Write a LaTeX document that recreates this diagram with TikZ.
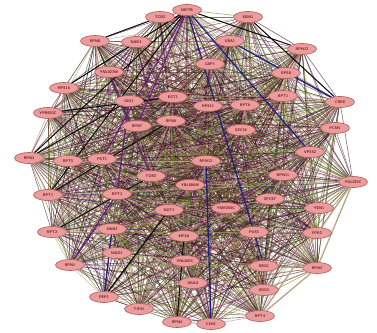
\documentclass[tikz,border=0pt]{standalone}
\usetikzlibrary{shapes.geometric,backgrounds}
\definecolor{nodefill}{HTML}{EB9C9C}
\definecolor{nodeborder}{HTML}{B05A5A}
\definecolor{nodetext}{HTML}{6A1515}
\definecolor{cola}{HTML}{7A8A2A}
\definecolor{colb}{HTML}{BCA88C}
\definecolor{colc}{HTML}{4A0A18}
\definecolor{cold}{HTML}{5A1A5A}
\definecolor{cole}{HTML}{2A5018}
\definecolor{colf}{HTML}{C08890}
\definecolor{colg}{HTML}{2A1A1A}
\definecolor{colh}{HTML}{6A3A2A}
\definecolor{accblue}{HTML}{1A1A80}
\definecolor{accpurple}{HTML}{6A1A7A}
\tikzset{
  pn/.style={ellipse, draw=nodeborder, line width=0.6pt, fill=nodefill, inner sep=0.5pt,
    minimum height=11pt, minimum width=29pt,
    font=\fontsize{3.8}{4}\selectfont\sffamily\bfseries, text=nodetext},
  e0/.style={draw=cola, line width=0.55pt, opacity=0.75},
  e1/.style={draw=colb, line width=0.55pt, opacity=0.8},
  e2/.style={draw=colc, line width=0.55pt, opacity=0.7},
  e3/.style={draw=cold, line width=0.55pt, opacity=0.7},
  e4/.style={draw=cole, line width=0.55pt, opacity=0.7},
  e5/.style={draw=colf, line width=0.55pt, opacity=0.75},
  e6/.style={draw=colg, line width=0.55pt, opacity=0.65},
  e7/.style={draw=colh, line width=0.55pt, opacity=0.7},
  ablack/.style={draw=black, line width=1pt, opacity=0.9},
  ablue/.style={draw=accblue, line width=1.3pt, opacity=0.9},
  apurple/.style={draw=accpurple, line width=1.3pt, opacity=0.85},
  atan/.style={draw=colb, line width=1.3pt, opacity=0.95}
}
\begin{document}
\begin{tikzpicture}[x=1pt,y=-1pt]
\useasboundingbox (0,0) rectangle (377,332);
\foreach \n/\x/\y/\t in {
 1/187/10/NIP7B, 2/160/17/TCB2, 3/248/17/SEM1, 4/95/41/RPN8, 5/136/42/NAB3,
 6/230/41/USA1, 7/302/49/RPN12, 8/109/72/YNL027W, 9/210/64/GSP1, 10/286/73/RPS8,
 11/64/88/RPS16, 12/129/101/IGO1, 13/173/97/EGT1, 14/283/96/RPT1, 15/340/102/CSR8,
 16/48/113/YPR003C, 17/208/106/RPS11, 18/245/105/RPT6, 19/137/126/RPN7, 20/171/121/RPN6,
 21/241/130/SEC18, 22/335/128/PCM1, 23/29/158/RPN3, 24/68/161/RPT5, 25/102/159/PST1,
 26/151/176/TOR2, 27/206/161/RPN12, 28/190/185/YBL004W, 29/310/152/VPS52, 30/283/175/RPN11,
 31/353/182/YOL022C, 32/48/195/RPT7, 33/117/194/RPT3, 34/169/210/NOT1, 35/226/208/YMR260C,
 36/270/199/SPC97, 37/319/208/YEN1, 38/52/232/RPT2, 39/112/229/SWA2, 40/184/236/EIF4A,
 41/254/232/PUS5, 42/317/233/FPR2, 43/117/253/MAD1, 44/185/261/YNL002C, 45/70/265/RPN1,
 46/264/266/ERG1, 47/317/268/RPN2, 48/193/283/MUL8, 49/264/290/ERG3, 50/104/297/PEP1,
 51/139/309/TIF41, 52/177/322/RPN4, 53/211/324/CSH1, 54/260/316/RPT4}
 { \node[pn] (n\n) at (\x,\y) {\t}; }
\begin{scope}[on background layer]
\foreach \i in {1,...,53} {
  \pgfmathtruncatemacro\s{\i+1}
  \foreach \j in {\s,...,54} {
    \pgfmathtruncatemacro\c{mod(\i*7+\j*3,8)}
    \draw[e\c] (n\i) -- (n\j);
  }
}
% accent edges
\draw[ablack] (n2) -- (n4);
\draw[ablack] (n1) -- (n11);
\draw[ablack] (n1) -- (n23);
\draw[ablack] (n1) -- (n32);
\draw[ablack] (n1) -- (n7);
\draw[ablack] (n3) -- (n15);
\draw[ablack] (n16) -- (n13);
\draw[ablack] (n23) -- (n12);
\draw[ablack] (n32) -- (n20);
\draw[ablack] (n38) -- (n26);
\draw[ablack] (n50) -- (n34);
\draw[ablack] (n52) -- (n40);
\draw[ablue] (n1) -- (n41);
\draw[ablue] (n1) -- (n29);
\draw[ablue] (n6) -- (n15);
\draw[ablue] (n53) -- (n27);
\draw[ablue] (n50) -- (n39);
\draw[ablue] (n41) -- (n46);
\draw[apurple] (n1) -- (n19);
\draw[apurple] (n1) -- (n25);
\draw[apurple] (n8) -- (n26);
\draw[apurple] (n12) -- (n33);
\draw[apurple] (n45) -- (n33);
\draw[atan] (n31) -- (n47);
\draw[atan] (n47) -- (n54);
\draw[atan] (n31) -- (n54);
\end{scope}
\end{tikzpicture}
\end{document}
